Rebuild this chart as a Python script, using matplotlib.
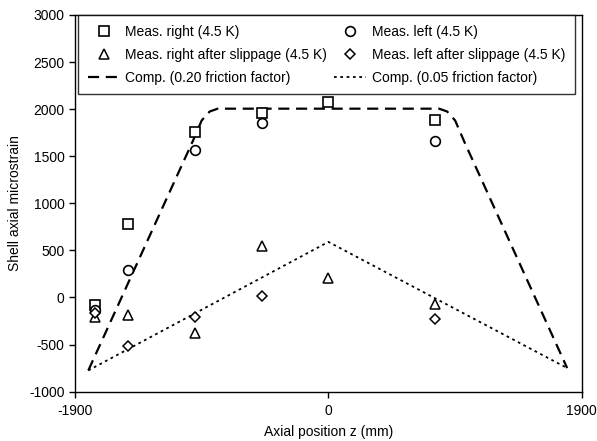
import matplotlib
matplotlib.use("Agg")
import matplotlib.pyplot as plt

plt.rcParams['font.family'] = ['Liberation Sans', 'DejaVu Sans']
plt.rcParams['axes.unicode_minus'] = False

# Measured data
z_meas = [-1750, -1500, -1000, -500, 0, 800]
right = [-80, 780, 1760, 1960, 2080, 1880]
z_left = [-1750, -1500, -1000, -500, 800]
left = [-130, 295, 1570, 1850, 1660]
z_rs = [-1750, -1500, -1000, -500, 0, 800]
right_slip = [-210, -185, -375, 550, 210, -65]
z_ls = [-1750, -1500, -1000, -500, 800]
left_slip = [-160, -515, -205, 20, -225]

# Computations
z_c20 = [-1800, -1020, -950, -890, -830, 830, 890, 950, 1020, 1790]
c20 = [-775, 1650, 1880, 1975, 2005, 2005, 1975, 1880, 1650, -750]
z_c05 = [-1800, 0, 1790]
c05 = [-775, 590, -750]

fig = plt.figure(figsize=(5.97, 4.41), dpi=100)
ax = fig.add_axes([0.1256, 0.112, 0.849, 0.854])

h1, = ax.plot(z_meas, right, 's', mfc='white', mec='black', mew=1.2, ms=7, ls='none',
              label='Meas. right (4.5 K)', zorder=3)
h2, = ax.plot(z_left, left, 'o', mfc='white', mec='black', mew=1.2, ms=7, ls='none',
              label='Meas. left (4.5 K)', zorder=3)
h3, = ax.plot(z_rs, right_slip, '^', mfc='white', mec='black', mew=1.1, ms=7, ls='none',
              label='Meas. right after slippage (4.5 K)', zorder=3)
h4, = ax.plot(z_ls, left_slip, 'D', mfc='white', mec='black', mew=1.1, ms=5.5, ls='none',
              label='Meas. left after slippage (4.5 K)', zorder=3)
h5, = ax.plot(z_c20, c20, color='black', lw=1.6, ls=(0, (5, 3)),
              label='Comp. (0.20 friction factor)', zorder=2)
h6, = ax.plot(z_c05, c05, color='black', lw=1.3, ls=(0, (1.5, 2)),
              label='Comp. (0.05 friction factor)', zorder=2)

ax.set_xlim(-1900, 1900)
ax.set_ylim(-1000, 3000)
ax.set_xticks([-1900, 0, 1900])
ax.set_yticks(range(-1000, 3001, 500))
ax.tick_params(direction='out', length=4, width=1, labelsize=10, colors='black')
ax.tick_params(axis='x', pad=5)
for s in ax.spines.values():
    s.set_linewidth(1.0)
    s.set_color('black')

ax.set_xlabel('Axial position z (mm)', fontsize=10, labelpad=5)
ax.set_ylabel('Shell axial microstrain', fontsize=10, labelpad=5)

leg = ax.legend(handles=[h1, h3, h5, h2, h4, h6], ncol=2, loc='upper right',
                bbox_to_anchor=(0.986, 1.0), fontsize=10, frameon=True, fancybox=False,
                edgecolor='black', handlelength=2.3, handletextpad=0.4, columnspacing=0.5,
                borderaxespad=0.0, borderpad=0.7, labelspacing=0.65)
leg.get_frame().set_linewidth(1.0)

fig.savefig('out.png', dpi=100)
